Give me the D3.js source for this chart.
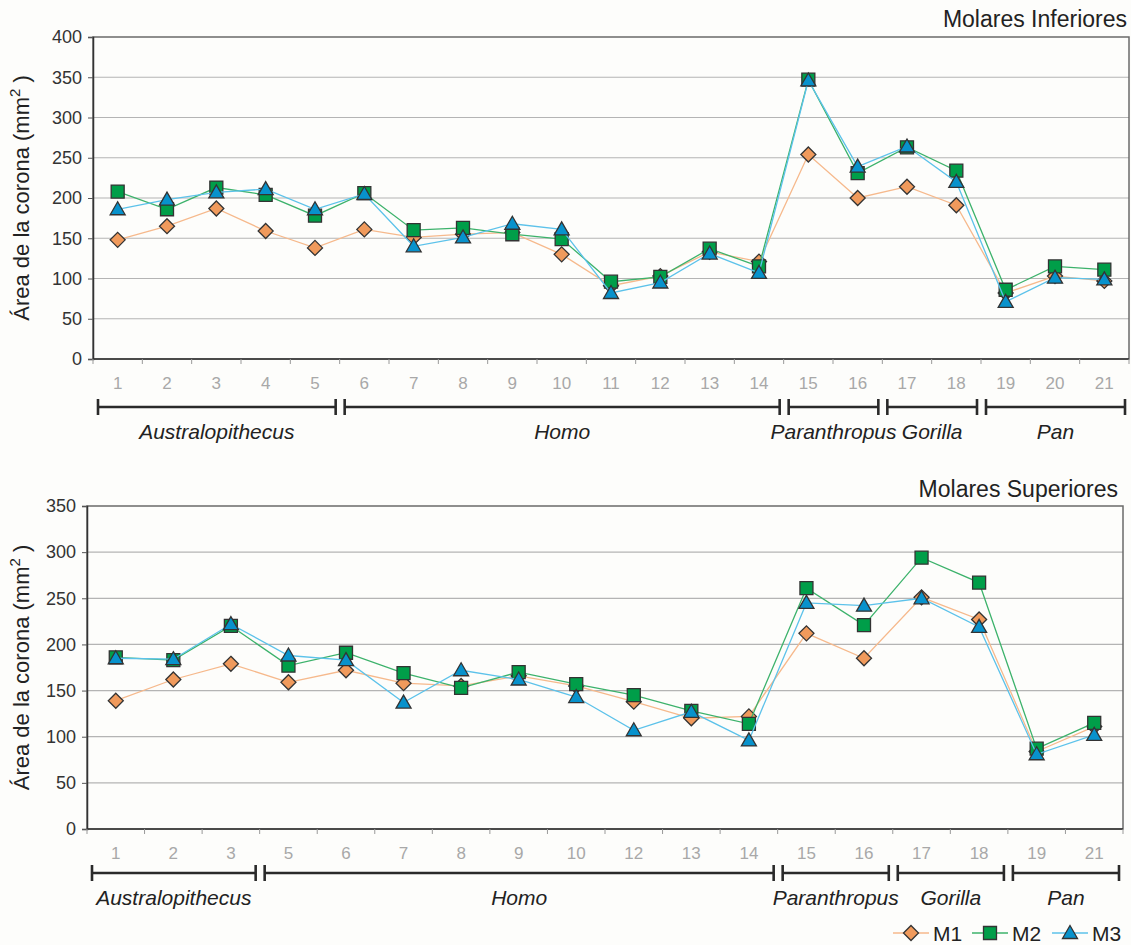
<!DOCTYPE html>
<html>
<head>
<meta charset="utf-8">
<script src="https://cdn.jsdelivr.net/npm/d3@7"></script>
<style>
  html, body { margin: 0; padding: 0; background: #fdfdfb; }
  svg { display: block; font-family: "Liberation Sans", Arial, sans-serif; }
</style>
</head>
<body>
<svg id="chart" width="1131" height="945"></svg>
<script>
// Lower molars (Molares Inferiores)
const infCategories = ["1","2","3","4","5","6","7","8","9","10","11","12","13","14","15","16","17","18","19","20","21"];
const infM1 = [148, 165, 187, 159, 138, 161, 151, 155, 157, 130, 91, 103, 133, 121, 254, 200, 214, 191, 82, 103, 97];
const infM2 = [208, 186, 213, 204, 178, 206, 160, 163, 155, 149, 96, 102, 137, 115, 347, 231, 263, 234, 86, 115, 111];
const infM3 = [186, 198, 207, 211, 186, 205, 140, 151, 168, 161, 82, 95, 131, 107, 346, 239, 264, 220, 71, 101, 99];
const infTicks = [0, 50, 100, 150, 200, 250, 300, 350, 400];
const infGroups = ["Australopithecus", "Homo", "Paranthropus", "Gorilla", "Pan"];
const infGroupMembers = [["1","5"], ["6","14"], ["15","16"], ["17","18"], ["19","21"]];

// Upper molars (Molares Superiores)
const supCategories = ["1","2","3","5","6","7","8","9","10","12","13","14","15","16","17","18","19","21"];
const supM1 = [139, 162, 179, 159, 172, 158, 155, 166, 155, 138, 120, 122, 212, 185, 251, 227, 84, 111];
const supM2 = [186, 183, 220, 177, 191, 169, 153, 170, 157, 145, 128, 114, 261, 221, 294, 267, 87, 115];
const supM3 = [185, 184, 222, 188, 183, 137, 172, 162, 143, 107, 127, 96, 245, 242, 250, 219, 81, 102];
const supTicks = [0, 50, 100, 150, 200, 250, 300, 350];
const supGroups = ["Australopithecus", "Homo", "Paranthropus", "Gorilla", "Pan"];
const supGroupMembers = [["1","3"], ["5","14"], ["15","16"], ["17","18"], ["19","21"]];

const seriesNames = ["M1", "M2", "M3"];
const seriesFill = ["#f09a5c", "#009e49", "#0892cc"];
const seriesLine = ["#f6b98c", "#3cb26b", "#5cc2ea"];
const seriesShape = ["diamond", "square", "triangle"];

const svg = d3.select("#chart");

function markerPath(shape) {
  if (shape === "diamond") return "M0,-7.5L7.5,0L0,7.5L-7.5,0Z";
  if (shape === "square") return "M-6.5,-6.5H6.5V6.5H-6.5Z";
  return "M0,-7.5L7.5,5.5H-7.5Z";
}

function drawPanel(p) {
  const g = svg.append("g");
  const x = d3.scaleBand().domain(p.categories).range([p.left, p.right]).padding(0);
  const y = d3.scaleLinear().domain([0, p.ticks[p.ticks.length - 1]]).range([p.bottom, p.top]);
  const cx = c => x(c) + x.bandwidth() / 2;

  // horizontal gridlines
  g.append("g").selectAll("line").data(p.ticks.slice(1, -1)).join("line")
    .attr("x1", p.left).attr("x2", p.right)
    .attr("y1", d => y(d)).attr("y2", d => y(d))
    .attr("stroke", "#b4b4b4").attr("stroke-width", 1.2);

  // plot frame
  g.append("rect").attr("x", p.left).attr("y", p.top)
    .attr("width", p.right - p.left).attr("height", p.bottom - p.top)
    .attr("fill", "none").attr("stroke", "#6a6a6a").attr("stroke-width", 1.5);

  // y axis
  const yAxis = d3.axisLeft(y).tickValues(p.ticks).tickSize(5).tickPadding(6);
  const ya = g.append("g").attr("transform", `translate(${p.left},0)`).call(yAxis);
  ya.select(".domain").attr("stroke", "#333").attr("stroke-width", 1.5);
  ya.selectAll(".tick line").attr("stroke", "#555");
  ya.selectAll(".tick text").attr("font-size", 18).attr("fill", "#333")
    .attr("font-family", "Liberation Sans, Arial, sans-serif");

  // x axis: ticks at band boundaries, labels centred in bands
  const bounds = p.categories.map(c => x(c)).concat([p.right]);
  g.append("line").attr("x1", p.left).attr("x2", p.right)
    .attr("y1", p.bottom).attr("y2", p.bottom).attr("stroke", "#333").attr("stroke-width", 1.5);
  g.append("g").selectAll("line").data(bounds).join("line")
    .attr("x1", d => d).attr("x2", d => d)
    .attr("y1", p.bottom).attr("y2", p.bottom + 5)
    .attr("stroke", "#999").attr("stroke-width", 1);
  g.append("g").selectAll("text").data(p.categories).join("text")
    .attr("x", d => cx(d)).attr("y", p.bottom + 30)
    .attr("text-anchor", "middle").attr("font-size", 17).attr("fill", "#a8a8a8")
    .text(d => d);

  // y axis title
  const yt = g.append("text")
    .attr("transform", `translate(${p.yLabelX},${(p.top + p.bottom) / 2}) rotate(-90)`)
    .attr("text-anchor", "middle").attr("font-size", 22).attr("fill", "#222");
  yt.append("tspan").text("Área de la corona (mm");
  yt.append("tspan").attr("font-size", 15).attr("dy", -9).text("2");
  yt.append("tspan").attr("dy", 9).text(" )");

  // panel title
  g.append("text").attr("x", p.titleX).attr("y", p.titleY)
    .attr("text-anchor", "end").attr("font-size", 23).attr("fill", "#222")
    .text(p.title);

  // genus brackets
  const bw = x.bandwidth();
  p.groups.forEach((name, i) => {
    const [a, b] = p.members[i];
    const x0 = x(a) + 5, x1 = x(b) + bw - 4;
    const gy = p.bracketY;
    g.append("line").attr("x1", x0).attr("x2", x1).attr("y1", gy).attr("y2", gy)
      .attr("stroke", "#2a2a2a").attr("stroke-width", 2.6);
    [x0, x1].forEach(xx => g.append("line").attr("x1", xx).attr("x2", xx)
      .attr("y1", gy - 8).attr("y2", gy + 8).attr("stroke", "#2a2a2a").attr("stroke-width", 2.6));
    g.append("text").attr("x", (x0 + x1) / 2).attr("y", gy + 32)
      .attr("text-anchor", "middle").attr("font-size", 21).attr("font-style", "italic")
      .attr("fill", "#222").text(name);
  });

  // series lines and markers
  p.series.forEach((vals, si) => {
    const pts = p.categories.map((c, i) => [cx(c), y(vals[i])]);
    g.append("path").attr("d", d3.line()(pts)).attr("fill", "none")
      .attr("stroke", seriesLine[si]).attr("stroke-width", 1.3);
    g.append("g").selectAll("path").data(pts).join("path")
      .attr("transform", d => `translate(${d[0]},${d[1]})`)
      .attr("d", markerPath(seriesShape[si]))
      .attr("fill", seriesFill[si]).attr("stroke", "#333").attr("stroke-width", 1.3);
  });
}

drawPanel({
  categories: infCategories, series: [infM1, infM2, infM3], ticks: infTicks,
  groups: infGroups, members: infGroupMembers,
  left: 93, right: 1129, top: 37, bottom: 359,
  bracketY: 407, yLabelX: 29, titleX: 1127, titleY: 27, title: "Molares Inferiores"
});

drawPanel({
  categories: supCategories, series: [supM1, supM2, supM3], ticks: supTicks,
  groups: supGroups, members: supGroupMembers,
  left: 87, right: 1123, top: 506, bottom: 829,
  bracketY: 873, yLabelX: 29, titleX: 1118, titleY: 497, title: "Molares Superiores"
});

// legend
const legendX = [893, 972, 1052];
const lg = svg.append("g");
seriesNames.forEach((name, i) => {
  const lx = legendX[i], ly = 933;
  lg.append("line").attr("x1", lx).attr("x2", lx + 36).attr("y1", ly).attr("y2", ly)
    .attr("stroke", seriesLine[i]).attr("stroke-width", 1.3);
  lg.append("path").attr("transform", `translate(${lx + 18},${ly})`)
    .attr("d", markerPath(seriesShape[i]))
    .attr("fill", seriesFill[i]).attr("stroke", "#333").attr("stroke-width", 1.3);
  lg.append("text").attr("x", lx + 40).attr("y", ly + 8)
    .attr("font-size", 21).attr("fill", "#222").text(name);
});
</script>
</body>
</html>
